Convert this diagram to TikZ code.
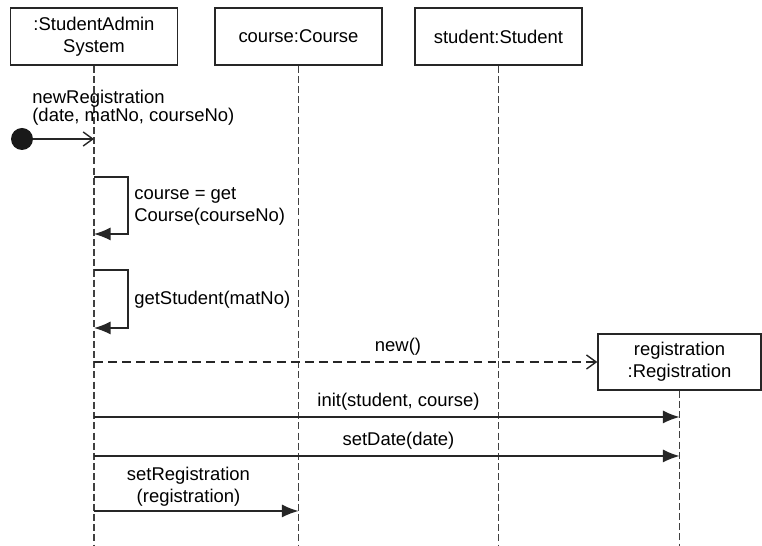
\documentclass[tikz,border=0pt]{standalone}
\usepackage{fontspec}
\setmainfont{Liberation Sans}
\usetikzlibrary{arrows.meta}

\begin{document}
\begin{tikzpicture}[
  x=0.02cm, y=-0.02cm,
  obj/.style={
    draw=black!85, fill=white, line width=0.8pt,
    minimum width=3.34cm, minimum height=1.14cm,
    font=\fontsize{10.5}{12.5}\selectfont, align=center, inner sep=0pt
  },
  lifeline/.style={
    draw=black!75, line width=0.75pt, dash pattern=on 4pt off 1.8pt
  },
  sync/.style={
    -{Latex[length=9.5pt,width=7.5pt]}, draw=black!85, line width=0.8pt
  },
  call/.style={
    -{Straight Barb[length=5.5pt,width=8pt]}, draw=black!85, line width=0.8pt
  },
  create/.style={
    call, dash pattern=on 5pt off 3pt
  },
  lbl/.style={
    font=\fontsize{10.5}{12.5}\selectfont, inner sep=0pt
  }
]
\useasboundingbox (0,0) rectangle (762,546);

% Objects
\node[obj] (sys)     at (94, 36.5)    {:StudentAdmin\\System};
\node[obj] (course)  at (298.5, 36.5) {course:Course};
\node[obj] (student) at (498.5, 36.5) {student:Student};
\node[obj, minimum width=3.26cm, minimum height=1.12cm] (reg) at (679.5, 362) {registration\\:Registration};

% Lifelines
\coordinate (bottom) at (0, 546);
\draw[lifeline] (sys.south)     -- (sys.south |- bottom);
\draw[lifeline] (course.south)  -- (course.south |- bottom);
\draw[lifeline] (student.south) -- (student.south |- bottom);
\draw[lifeline] (reg.south)     -- (reg.south |- bottom);

% Message rows
\coordinate (m1) at (0, 139);
\coordinate (s1a) at (0, 177);
\coordinate (s1b) at (0, 234);
\coordinate (s2a) at (0, 270);
\coordinate (s2b) at (0, 328);
\coordinate (m4) at (0, 417);
\coordinate (m5) at (0, 456);
\coordinate (m6) at (0, 511);

% Found message
\node[circle, fill=black!90, minimum size=0.44cm, inner sep=0pt] (start) at (22, 139) {};
\draw[call] (start) -- (sys |- m1);
\node[lbl, anchor=west, align=left, font=\fontsize{10.5}{10.4}\selectfont] (l1) at (32, 108) {newRegistration\\(date, matNo, courseNo)};

% Self calls
\draw[sync] (sys |- s1a) -- ++(34, 0) |- (sys |- s1b);
\node[lbl, anchor=west, align=left] (l2) at (134, 206) {course = get\\Course(courseNo)};
\draw[sync] (sys |- s2a) -- ++(34, 0) |- (sys |- s2b);
\node[lbl, anchor=west] (l3) at (134, 300) {getStudent(matNo)};

% Creation
\draw[create] (sys |- reg.west) -- (reg.west);
\node[lbl] (l4) at (398, 347) {new()};

% Calls to registration and course
\draw[sync] (sys |- m4) -- (reg |- m4);
\node[lbl] (l5) at (398.5, 402) {init(student, course)};
\draw[sync] (sys |- m5) -- (reg |- m5);
\node[lbl] (l6) at (398.5, 441) {setDate(date)};
\draw[sync] (sys |- m6) -- (course |- m6);
\node[lbl, align=center] (l7) at (188.5, 487) {setRegistration\\(registration)};

\end{tikzpicture}
\end{document}
